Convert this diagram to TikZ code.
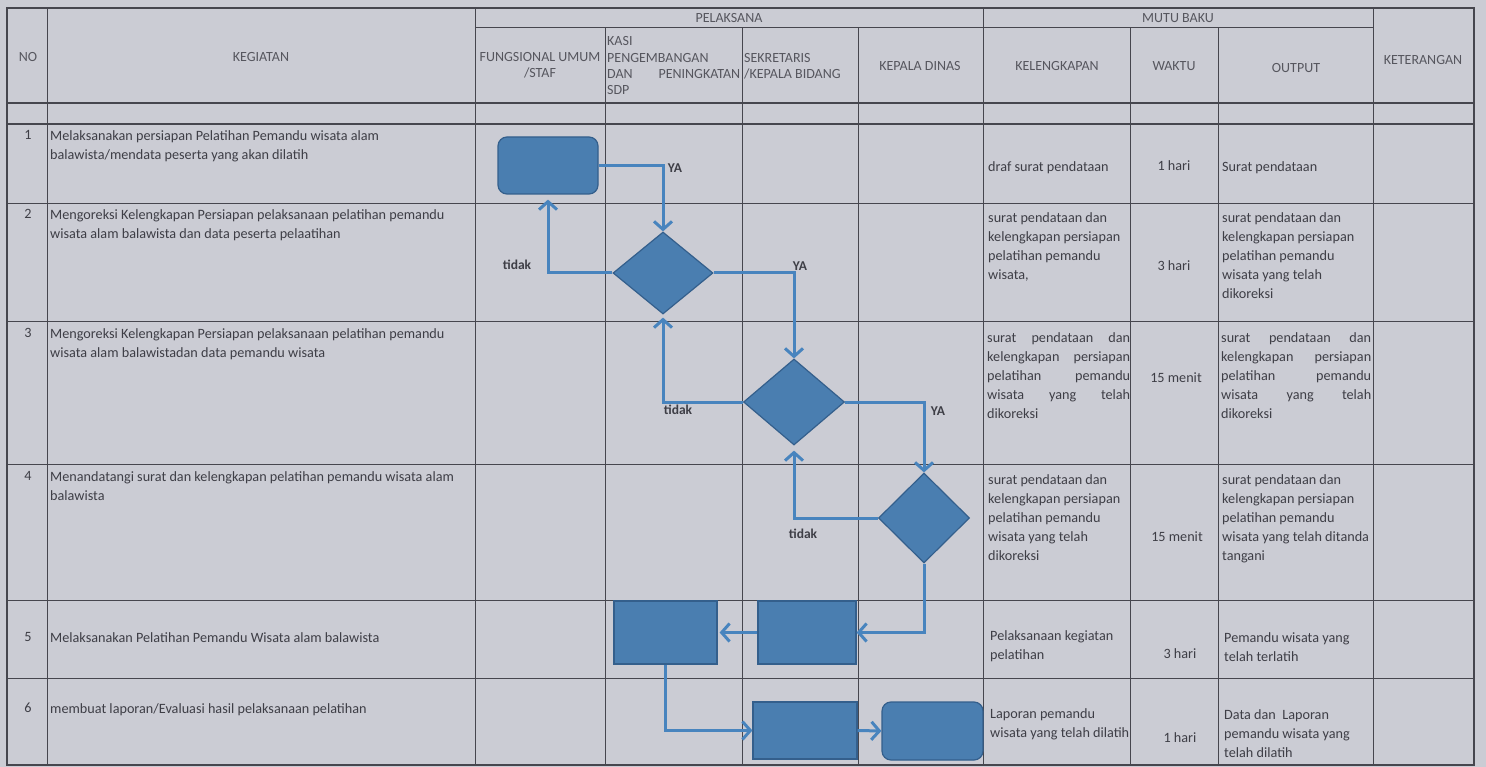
\documentclass[tikz,border=0pt]{standalone}
\usepackage{fontspec}
\setmainfont{Carlito}
\usetikzlibrary{arrows.meta,shapes.geometric}
\definecolor{bg}{RGB}{203,204,212}
\definecolor{grid}{RGB}{70,70,78}
\definecolor{txt}{RGB}{62,62,70}
\definecolor{hdr}{RGB}{86,86,94}
\definecolor{shapefill}{RGB}{74,126,176}
\definecolor{shapedraw}{RGB}{52,95,140}
\definecolor{flowc}{RGB}{72,132,190}
\newcommand{\jline}[2]{\makebox[#1][s]{#2}}
\tikzset{
  gridline/.style={draw=grid, line width=1pt},
  thick grid/.style={draw=grid, line width=1.8pt},
  hdrtext/.style={inner sep=0pt, text=hdr, font=\fontsize{14}{16.3}\selectfont, align=center},
  hdrleft/.style={inner sep=0pt, text=hdr, font=\fontsize{14}{16.3}\selectfont, align=left, anchor=north west},
  cell/.style={inner sep=0pt, text=txt, font=\fontsize{14.2}{18.5}\selectfont, align=left, anchor=north west},
  cellr/.style={inner sep=0pt, text=txt, font=\fontsize{14.2}{19.1}\selectfont, align=left, anchor=north west},
  num/.style={inner sep=0pt, text=txt, font=\fontsize{14.2}{18.5}\selectfont},
  procbox/.style={rectangle, fill=shapefill, draw=shapedraw, line width=1.2pt, inner sep=0pt},
  termbox/.style={rectangle, rounded corners=9pt, fill=shapefill, draw=shapedraw, line width=1.2pt, inner sep=0pt},
  decision/.style={diamond, fill=shapefill, draw=shapedraw, line width=1.2pt, inner sep=0pt},
  flow/.style={draw=flowc, line width=3pt, -{Straight Barb[length=8pt,width=18pt]}},
  flowlabel/.style={inner sep=0pt, text=txt, font=\fontsize{13.5}{15}\selectfont\bfseries},
}
\begin{document}
\begin{tikzpicture}[x=1pt,y=-1pt]
\useasboundingbox (0,0) rectangle (1486,767);
\fill[bg] (0,0) rectangle (1486,767);

% ---------- grid ----------
\draw[gridline] (475,28) -- (1373,28);
\draw[thick grid] (7,103) -- (1474,103);
\draw[thick grid] (7,124) -- (1474,124);
\foreach \yy in {204,322,464,600,678} {\draw[gridline] (7,\yy) -- (1474,\yy);}
\foreach \xx in {47,475,983,1373} {\draw[gridline] (\xx,8) -- (\xx,765);}
\foreach \xx in {605,742,858,1130,1218} {\draw[gridline] (\xx,28) -- (\xx,765);}
\draw[draw=grid, line width=1.6pt] (7,8) rectangle (1474,765);

% ---------- header ----------
\node[hdrtext] (hno) at (28,57) {NO};
\node[hdrtext] (hkeg) at (261,57) {KEGIATAN};
\node[hdrtext] (hpel) at (729,18) {PELAKSANA};
\node[hdrtext] (hmutu) at (1178,18) {MUTU BAKU};
\node[hdrtext] (hfung) at (540,65) {FUNGSIONAL UMUM\\/STAF};
\node[hdrleft] (hkasi) at (607,36.5) {KASI\\PENGEMBANGAN\\\jline{133pt}{DAN PENINGKATAN}\\SDP};
\node[hdrleft] (hsek) at (744,53) {SEKRETARIS\\/KEPALA BIDANG};
\node[hdrtext] (hkd) at (920,66) {KEPALA DINAS};
\node[hdrtext] (hkel) at (1057,66) {KELENGKAPAN};
\node[hdrtext] (hwak) at (1174,66) {WAKTU};
\node[hdrtext] (hout) at (1296,68) {OUTPUT};
\node[hdrtext] (hket) at (1423,60) {KETERANGAN};

% ---------- row numbers ----------
\node[num] (n1) at (28,135) {1};
\node[num] (n2) at (28,214) {2};
\node[num] (n3) at (28,333) {3};
\node[num] (n4) at (28,476) {4};
\node[num] (n5) at (28,637) {5};
\node[num] (n6) at (28,708) {6};

% ---------- kegiatan ----------
\node[cell] (k1) at (50,130.5) {Melaksanakan persiapan Pelatihan Pemandu wisata alam\\balawista/mendata peserta yang akan dilatih};
\node[cell] (k2) at (50,209.5) {Mengoreksi Kelengkapan Persiapan pelaksanaan pelatihan pemandu\\wisata alam balawista dan data peserta pelaatihan};
\node[cell] (k3) at (50,328.5) {Mengoreksi Kelengkapan Persiapan pelaksanaan pelatihan pemandu\\wisata alam balawistadan data pemandu wisata};
\node[cell] (k4) at (50,471.5) {Menandatangi surat dan kelengkapan pelatihan pemandu wisata alam\\balawista};
\node[cell] (k5) at (50,632.5) {Melaksanakan Pelatihan Pemandu Wisata alam balawista};
\node[cell] (k6) at (50,703.5) {membuat laporan/Evaluasi hasil pelaksanaan pelatihan};

% ---------- mutu baku ----------
\node[cellr] (kel1) at (988,161.5) {draf surat pendataan};
\node[num] (w1) at (1174,166) {1 hari};
\node[cellr] (o1) at (1222,161.5) {Surat pendataan};

\node[cellr] (kel2) at (988,212.5) {surat pendataan dan\\kelengkapan persiapan\\pelatihan pemandu\\wisata,};
\node[num] (w2) at (1174,266) {3 hari};
\node[cellr] (o2) at (1222,212.5) {surat pendataan dan\\kelengkapan persiapan\\pelatihan pemandu\\wisata yang telah\\dikoreksi};

\node[cellr] (kel3) at (987,332.5) {\jline{143pt}{surat pendataan dan}\\\jline{143pt}{kelengkapan persiapan}\\\jline{143pt}{pelatihan pemandu}\\\jline{143pt}{wisata yang telah}\\dikoreksi};
\node[num] (w3) at (1176,378) {15 menit};
\node[cellr] (o3) at (1221,332.5) {\jline{150pt}{surat pendataan dan}\\\jline{150pt}{kelengkapan persiapan}\\\jline{150pt}{pelatihan pemandu}\\\jline{150pt}{wisata yang telah}\\dikoreksi};

\node[cellr] (kel4) at (988,474.5) {surat pendataan dan\\kelengkapan persiapan\\pelatihan pemandu\\wisata yang telah\\dikoreksi};
\node[num] (w4) at (1177,537) {15 menit};
\node[cellr] (o4) at (1222,474.5) {surat pendataan dan\\kelengkapan persiapan\\pelatihan pemandu\\wisata yang telah ditanda\\tangani};

\node[cellr] (kel5) at (990,630.5) {Pelaksanaan kegiatan\\pelatihan};
\node[num] (w5) at (1180,654) {3 hari};
\node[cellr] (o5) at (1224,632.5) {Pemandu wisata yang\\telah terlatih};

\node[cellr] (kel6) at (990,708.5) {Laporan pemandu\\wisata yang telah dilatih};
\node[num] (w6) at (1180,738) {1 hari};
\node[cellr] (o6) at (1224,709.5) {Data dan\ \ Laporan\\pemandu wisata yang\\telah dilatih};

% ---------- flowchart ----------
\node[termbox, minimum width=100pt, minimum height=57pt] (start) at (548,165.5) {};
\node[decision, minimum width=100pt, minimum height=82pt] (d1) at (663,273) {};
\node[decision, minimum width=101pt, minimum height=86pt] (d2) at (794,402) {};
\node[decision, minimum width=91pt, minimum height=90pt] (d3) at (924,518) {};
\node[procbox, minimum width=98pt, minimum height=63pt] (b5b) at (807,632.5) {};
\node[procbox, minimum width=103pt, minimum height=63pt] (b5a) at (665.5,632.5) {};
\node[procbox, minimum width=104pt, minimum height=57pt] (b6a) at (805,730.5) {};
\node[termbox, minimum width=101pt, minimum height=58pt] (b6b) at (932.5,731) {};

\draw[flow] (start.east) -| (d1.north);
\draw[flow, shorten >=5pt] (d1.west) -| (start.south);
\draw[flow] (d1.east) -| (d2.north);
\draw[flow, shorten >=3pt] (d2.west) -| (d1.south);
\draw[flow] (d2.east) -| (d3.north);
\draw[flow, shorten >=5pt] (d3.west) -| (d2.south);
\draw[flow] (d3.south) |- (b5b.east);
\draw[flow, shorten >=2pt] (b5b.west) -- (b5a.east);
\draw[flow] (b5a.south) |- (b6a.west);
\draw[flow] (b6a.east) -- (b6b.west);

\node[flowlabel] (ya1) at (675,168) {YA};
\node[flowlabel] (tidak1) at (517,265) {tidak};
\node[flowlabel] (ya2) at (800,266) {YA};
\node[flowlabel] (tidak2) at (678,410) {tidak};
\node[flowlabel] (ya3) at (938,411) {YA};
\node[flowlabel] (tidak3) at (803,534) {tidak};
\end{tikzpicture}
\end{document}
